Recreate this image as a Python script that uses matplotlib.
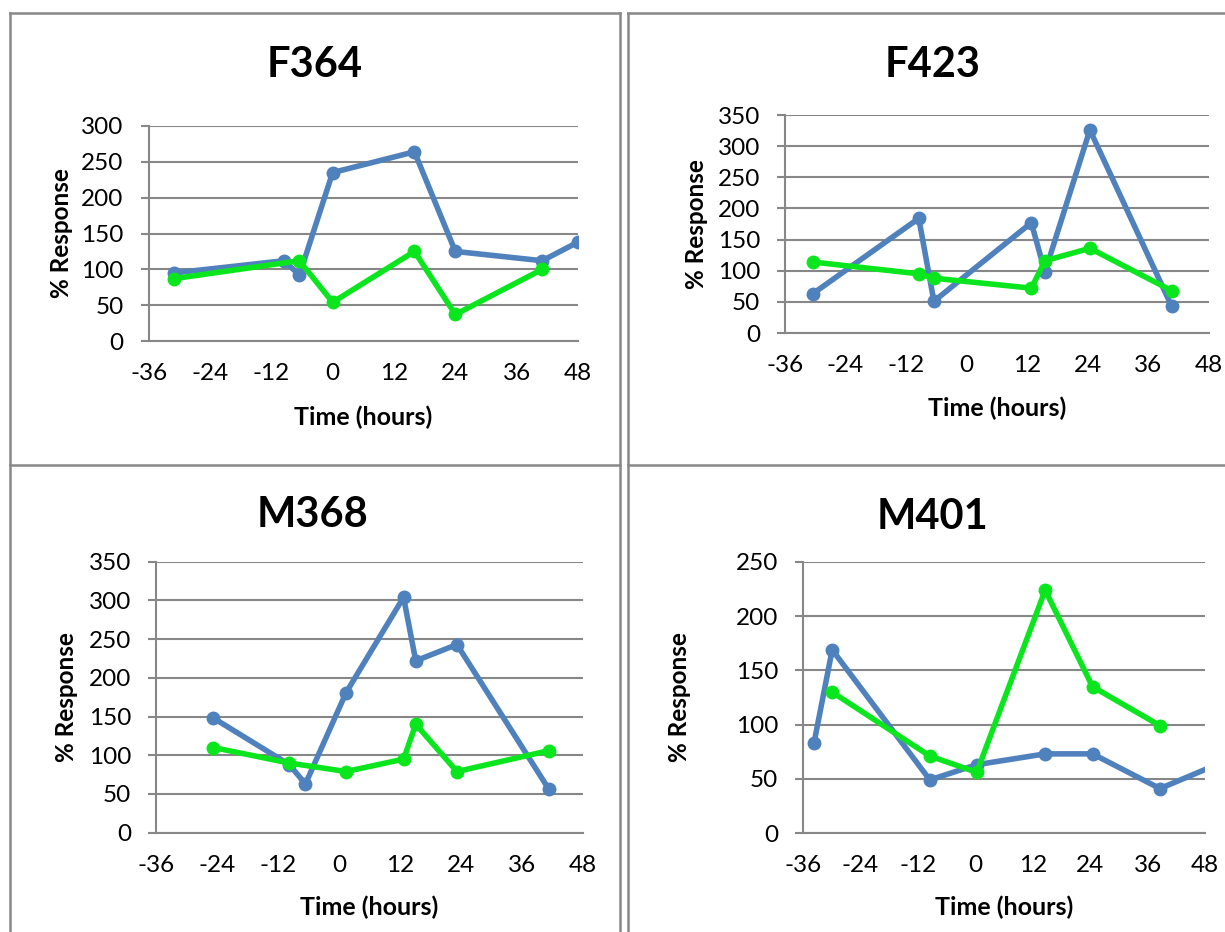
import matplotlib
matplotlib.use("Agg")
import matplotlib.pyplot as plt
from matplotlib.lines import Line2D

plt.rcParams['font.family'] = ['Lato', 'DejaVu Sans']
plt.rcParams['axes.unicode_minus'] = False

W, H = 1225, 932
BLUE = "#4F81BD"
GREEN = "#0AE61E"
GRID = "#878787"

# data (time in hours, % response)
f364_blue_t = [-31, -9.5, -6.5, 0, 16, 24, 41, 48]
f364_blue_v = [95, 112, 92, 235, 264, 125, 112, 138]
f364_green_t = [-31, -6.5, 0, 16, 24, 41]
f364_green_v = [87, 112, 54, 125, 37, 100]

f423_t = [-30.5, -9.5, -6.5, 12.8, 15.5, 24.4, 40.6]
f423_blue_v = [63, 184, 51, 177, 98, 326, 43]
f423_green_v = [114, 95, 88, 72, 116, 136, 68]

m368_blue_t = [-24.7, -9.8, -6.6, 1.4, 12.7, 15.1, 23.2, 41.3]
m368_blue_v = [148, 88, 63, 181, 304, 222, 243, 56]
m368_green_t = [-24.7, -9.8, 1.4, 12.7, 15.1, 23.2, 41.3]
m368_green_v = [110, 90, 79, 95, 140, 79, 106]

m401_blue_t = [-33.7, -29.9, -9.5, 0.3, 14.6, 24.5, 38.6, 52]
m401_blue_v = [83, 169, 49, 63, 73, 73, 41, 66]
m401_green_t = [-29.9, -9.5, 0.3, 14.6, 24.5, 38.6]
m401_green_v = [130, 71, 56, 224, 135, 99]

x_ticks = [-36, -24, -12, 0, 12, 24, 36, 48]

fig = plt.figure(figsize=(W / 100, H / 100), dpi=100)


def px_axes(left, right, top, bottom):
    return fig.add_axes([left / W, 1 - bottom / H, (right - left) / W, (bottom - top) / H])


panels = [
    # title, title pos, axes box, ymax, ystep, blue, green, xlabel y, ylabel x
    ("F364", (315, 65), (148.6, 578, 126, 341), 300, 50,
     (f364_blue_t, f364_blue_v), (f364_green_t, f364_green_v), -0.353, -0.202),
    ("F423", (933, 65), (785, 1209, 115, 333), 350, 50,
     (f423_t, f423_blue_v), (f423_t, f423_green_v), -0.344, -0.208),
    ("M368", (312, 515), (156, 583, 561.7, 832.7), 350, 50,
     (m368_blue_t, m368_blue_v), (m368_green_t, m368_green_v), -0.274, -0.21),
    ("M401", (932, 517), (803, 1205, 562, 833), 250, 50,
     (m401_blue_t, m401_blue_v), (m401_green_t, m401_green_v), -0.273, -0.307),
]

for title, tpos, box, ymax, ystep, blue, green, xl_y, yl_x in panels:
    ax = px_axes(*box)
    ax.plot(blue[0], blue[1], color=BLUE, lw=4, marker="o", ms=9, zorder=3)
    ax.plot(green[0], green[1], color=GREEN, lw=4, marker="o", ms=9, zorder=4)
    ax.set_xlim(-36, 48)
    ax.set_ylim(0, ymax)
    ax.set_xticks(x_ticks)
    ax.set_yticks(range(0, ymax + 1, ystep))
    ax.yaxis.grid(True, color=GRID, lw=1.5)
    ax.set_axisbelow(True)
    for s in ["top", "right"]:
        ax.spines[s].set_visible(False)
    for s in ["left", "bottom"]:
        ax.spines[s].set_color(GRID)
        ax.spines[s].set_linewidth(1.5)
    ax.tick_params(axis="y", length=6, width=1.5, color=GRID, labelsize=17.5, pad=12)
    ax.tick_params(axis="x", length=0, labelsize=17.5, pad=16)
    for lab in ax.get_yticklabels() + ax.get_xticklabels():
        lab.set_clip_on(False)
    ax.set_xlabel("Time (hours)", fontsize=18, fontweight="bold")
    ax.xaxis.set_label_coords(0.5, xl_y)
    ax.xaxis.label.set_va("center")
    ax.set_ylabel("% Response", fontsize=17.5, fontweight="bold")
    ax.yaxis.set_label_coords(yl_x, 0.5)
    ax.yaxis.label.set_va("center")
    fig.text(tpos[0] / W, 1 - tpos[1] / H, title, fontsize=30, fontweight="bold",
             ha="center", va="center")

# panel frames
def frame(x0, y0, x1, y1):
    fig.add_artist(Line2D([x0 / W, x1 / W], [1 - y0 / H, 1 - y1 / H],
                          color="#888888", lw=1.8, transform=fig.transFigure))

frame(9.5, 13, 9.5, H)
frame(619.5, 13, 619.5, H)
frame(628, 13, 628, H)
frame(9.5, 13, 619.5, 13)
frame(628, 13, W, 13)
frame(9.5, 465, 619.5, 465)
frame(628, 465, W, 465)

fig.savefig("out.png", dpi=100)
